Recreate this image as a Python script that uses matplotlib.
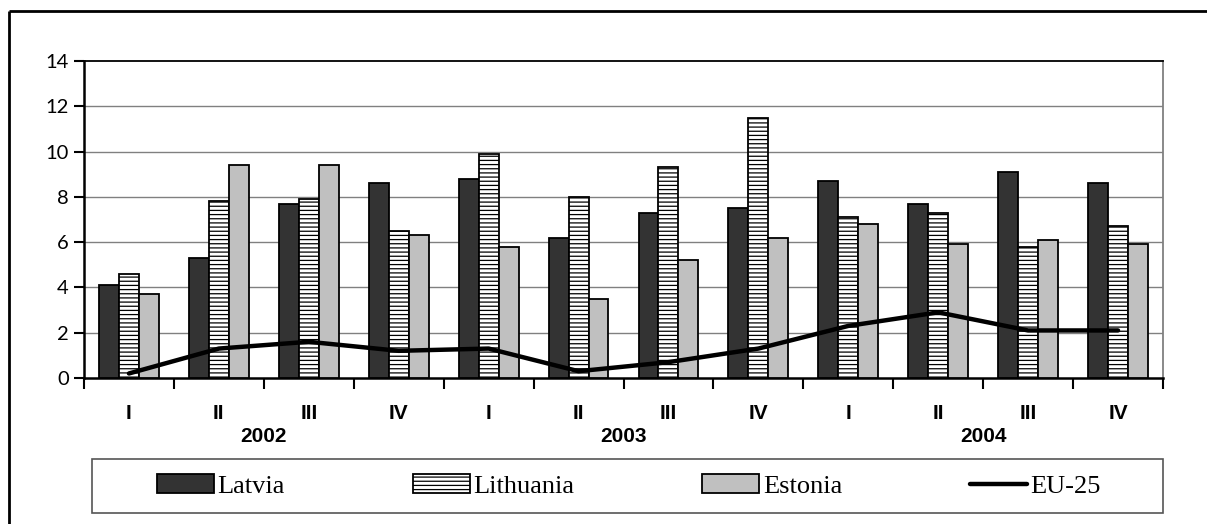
import numpy as np
import matplotlib
matplotlib.use('Agg')
import matplotlib.pyplot as plt
import matplotlib.transforms as mtransforms
from matplotlib.lines import Line2D
from matplotlib.patches import Rectangle

quarters = ['I', 'II', 'III', 'IV'] * 3
years = ['2002', '2003', '2004']
latvia = [4.1, 5.3, 7.7, 8.6, 8.8, 6.2, 7.3, 7.5, 8.7, 7.7, 9.1, 8.6]
lithuania = [4.6, 7.8, 7.9, 6.5, 9.9, 8.0, 9.3, 11.5, 7.1, 7.3, 5.8, 6.7]
estonia = [3.7, 9.4, 9.4, 6.3, 5.8, 3.5, 5.2, 6.2, 6.8, 5.9, 6.1, 5.9]
eu25 = [0.2, 1.3, 1.6, 1.2, 1.3, 0.3, 0.7, 1.3, 2.3, 2.9, 2.1, 2.1]

W, H = 1207, 524
plt.rcParams['hatch.linewidth'] = 0.9

fig = plt.figure(figsize=(W / 100, H / 100), dpi=100)
ax = fig.add_axes([84 / W, 1 - 378 / H, (1163 - 84) / W, (378 - 61) / H])

x = np.arange(len(quarters)) + 0.5
bw = 0.222
b1 = ax.bar(x - bw, latvia, bw, color='#333333', edgecolor='black', linewidth=1.3, zorder=3, label='Latvia')
b2 = ax.bar(x, lithuania, bw, color='white', edgecolor='black', linewidth=1.3, hatch='----', zorder=3, label='Lithuania')
b3 = ax.bar(x + bw, estonia, bw, color='#c0c0c0', edgecolor='black', linewidth=1.3, zorder=3, label='Estonia')
l1, = ax.plot(x, eu25, color='black', linewidth=3.2, solid_capstyle='round', zorder=4, label='EU-25')

ax.set_xlim(0, 12)
ax.set_ylim(0, 14)
ax.set_yticks(range(0, 15, 2))
ax.set_yticklabels([str(v) for v in range(0, 15, 2)], fontsize=14.5, family='Lato')
for v in range(2, 14, 2):
    ax.axhline(v, color='#808080', linewidth=1, zorder=1)

ax.set_xticks(range(0, 13))
ax.set_xticklabels([''] * 13)
ax.set_xticks(x, minor=True)
ax.set_xticklabels(quarters, minor=True, fontsize=15, fontweight='bold', family='Liberation Sans')
ax.tick_params(axis='x', which='major', direction='out', length=8, width=1.5)
ax.tick_params(axis='x', which='minor', length=0, pad=19)
ax.tick_params(axis='y', direction='out', length=7, width=1.5, pad=4)

ax.spines['left'].set_linewidth(1.8)
ax.spines['bottom'].set_linewidth(1.8)
ax.spines['top'].set_linewidth(1.3)
ax.spines['right'].set_color('#808080')
ax.spines['right'].set_linewidth(1.3)

trans = mtransforms.blended_transform_factory(ax.transData, fig.transFigure)
for i, yr in enumerate(years):
    ax.text(4 * i + 2, 1 - 437 / H, yr, transform=trans, ha='center', va='center',
            fontsize=15, fontweight='bold', family='Liberation Sans')

# legend box
fig.add_artist(Rectangle((92 / W, 1 - 513 / H), (1163 - 92) / W, (513 - 459) / H,
                         transform=fig.transFigure, fill=False, edgecolor='#555555', linewidth=1.2))
fig.legend(handles=[b1, b2, b3, l1], ncol=4, mode='expand', loc='center',
           bbox_to_anchor=(157 / W, 1 - 513 / H, (1101 - 157) / W, (513 - 459) / H),
           frameon=False, borderpad=0, borderaxespad=0, handlelength=2.15, handleheight=0.7,
           handletextpad=0.15, prop={'family': 'Liberation Serif', 'size': 19})

# outer frame
fig.add_artist(Line2D([9 / W, 9 / W], [0, 1 - 11 / H], transform=fig.transFigure, color='black',
                      linewidth=2, solid_capstyle='butt'))
fig.add_artist(Line2D([9 / W, 1], [1 - 11 / H, 1 - 11 / H], transform=fig.transFigure, color='black',
                      linewidth=2, solid_capstyle='butt'))

fig.savefig('out.png', dpi=100)
